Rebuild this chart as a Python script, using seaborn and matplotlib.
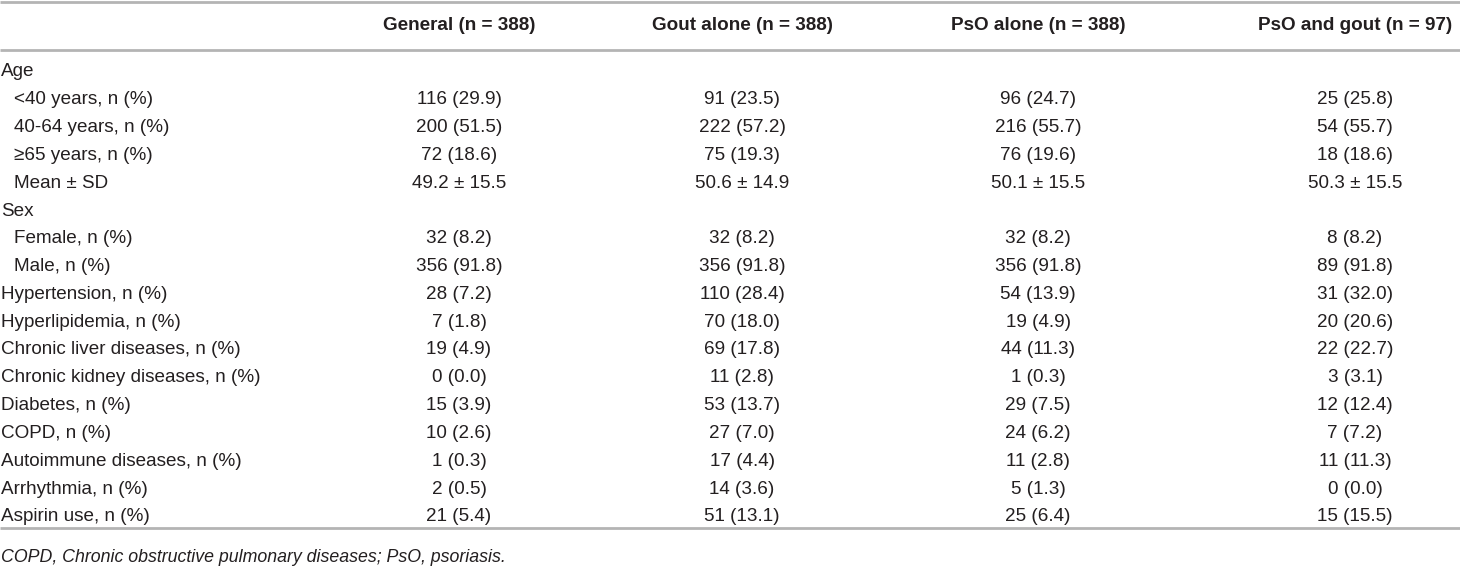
import seaborn as sns
import matplotlib.pyplot as plt

# table content
headers = ["General (n = 388)", "Gout alone (n = 388)", "PsO alone (n = 388)", "PsO and gout (n = 97)"]
row_labels = ["Age", "<40 years, n (%)", "40-64 years, n (%)", "≥65 years, n (%)", "Mean ± SD",
              "Sex", "Female, n (%)", "Male, n (%)", "Hypertension, n (%)", "Hyperlipidemia, n (%)",
              "Chronic liver diseases, n (%)", "Chronic kidney diseases, n (%)", "Diabetes, n (%)",
              "COPD, n (%)", "Autoimmune diseases, n (%)", "Arrhythmia, n (%)", "Aspirin use, n (%)"]
indented = [False, True, True, True, True, False, True, True,
            False, False, False, False, False, False, False, False, False]
general = ["", "116 (29.9)", "200 (51.5)", "72 (18.6)", "49.2 ± 15.5", "", "32 (8.2)", "356 (91.8)",
           "28 (7.2)", "7 (1.8)", "19 (4.9)", "0 (0.0)", "15 (3.9)", "10 (2.6)", "1 (0.3)", "2 (0.5)", "21 (5.4)"]
gout_alone = ["", "91 (23.5)", "222 (57.2)", "75 (19.3)", "50.6 ± 14.9", "", "32 (8.2)", "356 (91.8)",
              "110 (28.4)", "70 (18.0)", "69 (17.8)", "11 (2.8)", "53 (13.7)", "27 (7.0)", "17 (4.4)",
              "14 (3.6)", "51 (13.1)"]
pso_alone = ["", "96 (24.7)", "216 (55.7)", "76 (19.6)", "50.1 ± 15.5", "", "32 (8.2)", "356 (91.8)",
             "54 (13.9)", "19 (4.9)", "44 (11.3)", "1 (0.3)", "29 (7.5)", "24 (6.2)", "11 (2.8)",
             "5 (1.3)", "25 (6.4)"]
pso_gout = ["", "25 (25.8)", "54 (55.7)", "18 (18.6)", "50.3 ± 15.5", "", "8 (8.2)", "89 (91.8)",
            "31 (32.0)", "20 (20.6)", "22 (22.7)", "3 (3.1)", "12 (12.4)", "7 (7.2)", "11 (11.3)",
            "0 (0.0)", "15 (15.5)"]
footnote = "COPD, Chronic obstructive pulmonary diseases; PsO, psoriasis."

sns.set_theme(style="white")
plt.rcParams['font.family'] = ['Liberation Sans', 'DejaVu Sans']

fig = plt.figure(figsize=(14.6, 5.7), dpi=100)
ax = fig.add_axes([0, 0, 1, 1])
ax.set_xlim(0, 1460)
ax.set_ylim(570, 0)
ax.axis("off")

fs = 13.6
line_col = "#b4b4b4"
txt_col = "#231f20"

# rules
for y in [1.5, 50, 528]:
    ax.plot([0, 1460], [y, y], color=line_col, lw=2, solid_capstyle="butt")

col_x = [459, 742, 1038, 1355]
for x, h in zip(col_x, headers):
    ax.text(x, 26, h, ha="center", va="center", fontsize=fs, fontweight="bold", color=txt_col)

columns = [general, gout_alone, pso_alone, pso_gout]
y0, dy = 72, 27.8
for i, lab in enumerate(row_labels):
    y = y0 + i * dy
    ax.text(14 if indented[i] else 1, y, lab, ha="left", va="center", fontsize=fs, color=txt_col)
    for x, col in zip(col_x, columns):
        if col[i]:
            ax.text(x, y, col[i], ha="center", va="center", fontsize=fs, color=txt_col)

ax.text(1, 557, footnote, ha="left", va="center", fontsize=12.8, style="italic", color=txt_col)

fig.savefig("out.png", dpi=100)
